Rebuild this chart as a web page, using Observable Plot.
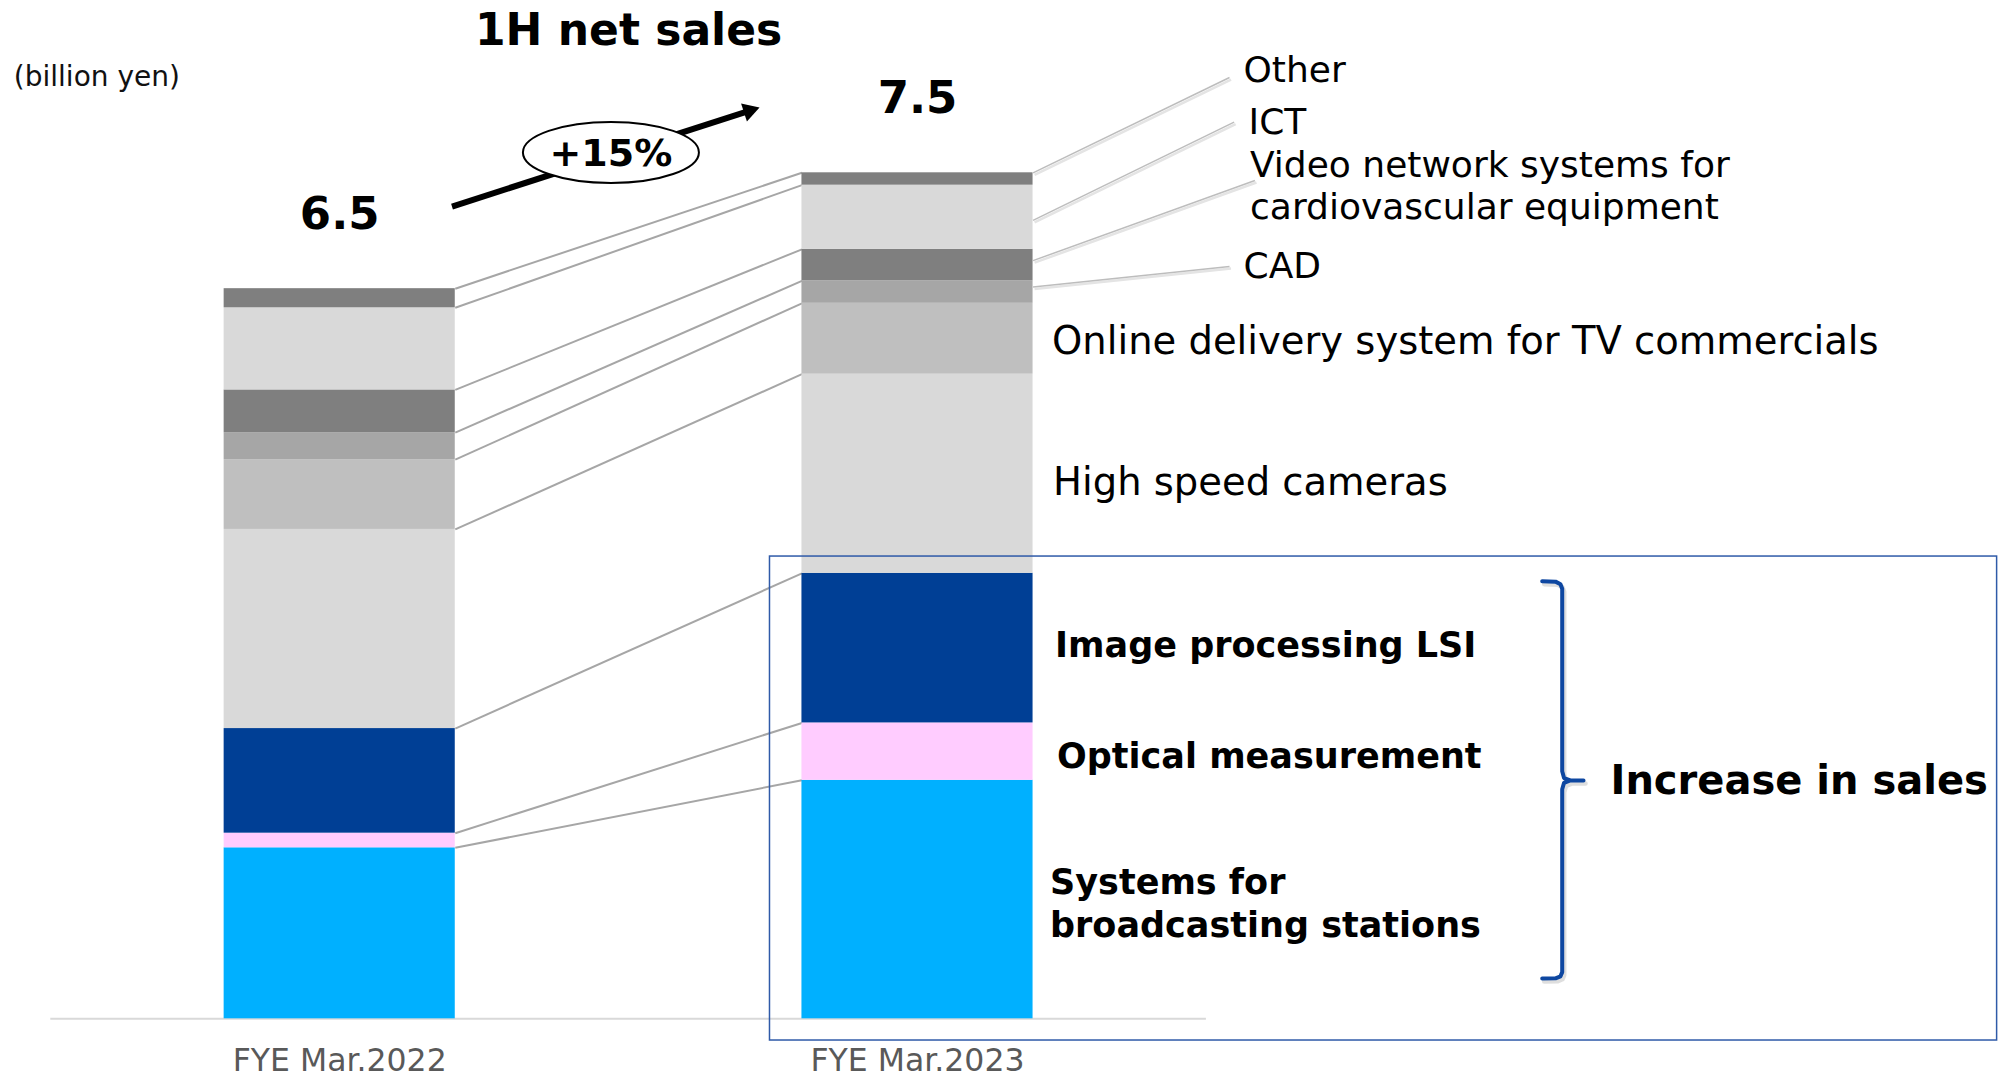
<!DOCTYPE html>
<html>
<head>
<meta charset="utf-8">
<script src="https://cdn.jsdelivr.net/npm/d3@7"></script>
<script src="https://cdn.jsdelivr.net/npm/@observablehq/plot@0.6"></script>
<style>
  html, body { margin: 0; padding: 0; background: #ffffff; }
  #chart { width: 2003px; height: 1077px; overflow: hidden; }
</style>
</head>
<body>
<div id="chart"></div>
<script>
// ---------------- data ----------------
const years = ["FYE Mar.2022", "FYE Mar.2023"];
const totals = [6.5, 7.5];
const growthLabel = "+15%";
const title = "1H net sales";
const unitLabel = "(billion yen)";
const groupLabel = "Increase in sales";

// segments from bottom to top
const segments = [
  "Systems for\nbroadcasting stations",
  "Optical measurement",
  "Image processing LSI",
  "High speed cameras",
  "Online delivery system for TV commercials",
  "CAD",
  "Video network systems for\ncardiovascular equipment",
  "ICT",
  "Other"
];
const sales2022 = [1.52, 0.13, 0.93, 1.77, 0.62, 0.24, 0.38, 0.73, 0.17];
const sales2023 = [2.12, 0.51, 1.33, 1.77, 0.63, 0.20, 0.28, 0.57, 0.11];
const segmentColors = ["#00b0ff", "#ffccff", "#003f95", "#d9d9d9", "#bfbfbf", "#a6a6a6", "#7f7f7f", "#d9d9d9", "#7f7f7f"];

// ---------------- layout / styles ----------------
const W = 2003, H = 1077;
const barHalf = 0.2;
const FONT = "'DejaVu Sans', Verdana, sans-serif";

// label styles per segment (same order as segments)
const labelStyle = [
  {dx: 17, dy: 2.5, size: 35, weight: "bold", lh: 1.233},
  {dx: 24, dy: 2.5, size: 35, weight: "bold"},
  {dx: 22, dy: -4.5, size: 35, weight: "bold"},
  {dx: 20, dy: 6.5, size: 38.5, weight: "normal"},
  {dx: 19, dy: 0.5, size: 38.5, weight: "normal"},
  {x: 1.5642, y: 6.711, size: 36, weight: "normal", leaderTo: [1.540, 6.687], leaderFrac: 0.72},
  {x: 1.5755, y: 7.415, size: 36, weight: "normal", lh: 1.175, leaderTo: [1.584, 7.452], leaderFrac: 0.64},
  {x: 1.5729, y: 7.985, size: 36, weight: "normal", leaderTo: [1.548, 7.970], leaderFrac: 0.45},
  {x: 1.5642, y: 8.447, size: 36, weight: "normal", leaderTo: [1.540, 8.367], leaderFrac: 1}
];

// ---------------- derived tables ----------------
const seriesValues = [sales2022, sales2023];
const rows = [];
const bounds = []; // bounds[yearIndex][segIndex] = {y1, y2}
seriesValues.forEach((vals, yi) => {
  let acc = 0;
  bounds[yi] = [];
  vals.forEach((v, si) => {
    rows.push({year: yi, segment: segments[si], y1: acc, y2: acc + v});
    bounds[yi][si] = {y1: acc, y2: acc + v};
    acc += v;
  });
});
const tops = seriesValues.map(v => d3.sum(v));

const connectors = segments.map((s, i) => ({y1: bounds[0][i].y2, y2: bounds[1][i].y2}));

const totalLabels = years.map((y, i) => ({x: i, y: tops[i], text: totals[i].toFixed(1)}));

// ---------------- marks ----------------
const marks = [];

// baseline
marks.push(Plot.ruleY([0], {x1: -0.5, x2: 1.5, stroke: "#d9d9d9", strokeWidth: 2}));

// connector lines between bars
marks.push(Plot.link(connectors, {
  x1: barHalf, x2: 1 - barHalf, y1: "y1", y2: "y2",
  stroke: "#a6a6a6", strokeWidth: 2
}));

// stacked bars
marks.push(Plot.rect(rows, {
  x1: d => d.year - barHalf, x2: d => d.year + barHalf,
  y1: "y1", y2: "y2", fill: "segment"
}));

// leader lines for small segments
const leaders = [];
labelStyle.forEach((st, i) => {
  if (st.leaderTo) {
    const b = bounds[1][i];
    leaders.push({y1: b.y1 + st.leaderFrac * (b.y2 - b.y1), x2: st.leaderTo[0], y2: st.leaderTo[1]});
  }
});
marks.push(Plot.link(leaders, {x1: 1 + barHalf, y1: "y1", x2: "x2", y2: "y2", stroke: "#e4e4e4", strokeWidth: 2.5, dx: 1.5, dy: 2}));
marks.push(Plot.link(leaders, {x1: 1 + barHalf, y1: "y1", x2: "x2", y2: "y2", stroke: "#bdbdbd", strokeWidth: 1.5}));

// segment labels
segments.forEach((s, i) => {
  const st = labelStyle[i];
  const b = bounds[1][i];
  const x = st.x !== undefined ? st.x : 1 + barHalf;
  const y = st.y !== undefined ? st.y : (b.y1 + b.y2) / 2;
  marks.push(Plot.text([s], {
    x: () => x, y: () => y, text: d => d,
    dx: st.dx || 0, dy: st.dy || 0,
    textAnchor: "start", fontSize: st.size, fontWeight: st.weight,
    lineHeight: st.lh || 1.2, fill: "#000"
  }));
});

// highlight box
marks.push(Plot.rect([groupLabel], {
  x1: 0.7447, x2: 2.8685, y1: -0.193, y2: 4.109,
  fill: "none", stroke: "#2f5aa8", strokeWidth: 1.5
}));

// brace
const bracePts = [
  [2.0812, 3.890], [2.1042, 3.886], [2.1128, 3.862], [2.1158, 3.822],
  [2.1158, 2.200], [2.1190, 2.140], [2.1300, 2.119], [2.1527, 2.119],
  [2.1300, 2.119], [2.1190, 2.098], [2.1158, 2.040],
  [2.1158, 0.415], [2.1128, 0.378], [2.1042, 0.360], [2.0812, 0.358]
].map(([x, y]) => ({x, y}));
marks.push(Plot.line(bracePts, {x: "x", y: "y", stroke: "#c8c8c8", strokeWidth: 4.5, dx: 2, dy: 3, strokeLinejoin: "round", strokeLinecap: "round", strokeOpacity: 0.6}));
marks.push(Plot.line(bracePts, {x: "x", y: "y", stroke: "#0e47a1", strokeWidth: 4, strokeLinejoin: "round", strokeLinecap: "round"}));

marks.push(Plot.text([groupLabel], {x: 2.1994, y: 2.109, text: d => d, textAnchor: "start", fontSize: 40, fontWeight: "bold", fill: "#000"}));

// totals
marks.push(Plot.text(totalLabels, {x: "x", y: "y", text: "text", dy: -74, fontSize: 45, fontWeight: "bold", fill: "#000"}));

// growth arrow: thick shaft + filled triangular head
const arrowSpec = {x1: 0.1944, y1: 7.220, x2: 0.7087, y2: 8.071};
marks.push(Plot.link([arrowSpec], {x1: "x1", y1: "y1", x2: "x2", y2: "y2", stroke: "#000", strokeWidth: 6}));
marks.push(Plot.dot([arrowSpec], {x: "x2", y: "y2", symbol: "triangle2", r: 9, fill: "#000", rotate: 72}));
marks.push(Plot.text([growthLabel], {x: 0.4694, y: 7.692, text: d => d, fontSize: 38, fontWeight: "bold", fill: "#000"}));

// title & unit
marks.push(Plot.text([title], {x: 0.5, y: 8.780, text: d => d, fontSize: 44, fontWeight: "bold", fill: "#000"}));
marks.push(Plot.text([unitLabel], {x: -0.564, y: 8.373, text: d => d, textAnchor: "start", fontSize: 28, fill: "#111"}));

// x axis
marks.push(Plot.axisX([0, 1], {
  tickFormat: i => years[i], tickSize: 0, tickPadding: 30,
  fontSize: 31.5, fill: "#595959", label: null
}));

const plot = Plot.plot({
  width: W, height: H,
  marginLeft: 0, marginRight: 0, marginTop: 0, marginBottom: 58.7,
  x: {domain: [-0.58706, 2.87955], axis: null},
  y: {domain: [0, 9.0516], axis: null},
  color: {domain: segments, range: segmentColors},
  style: {fontFamily: FONT, background: "#ffffff", overflow: "visible"},
  marks
});

document.getElementById("chart").appendChild(plot);

// white ellipse behind the growth label
const xs = plot.scale("x"), ys = plot.scale("y");
const svgNS = "http://www.w3.org/2000/svg";
const growthText = Array.from(plot.querySelectorAll("text")).find(t => t.textContent === growthLabel);
if (growthText) {
  const g = growthText.parentNode;
  const e = document.createElementNS(svgNS, "ellipse");
  e.setAttribute("cx", xs.apply(0.4694));
  e.setAttribute("cy", ys.apply(7.692) - 1);
  e.setAttribute("rx", 88);
  e.setAttribute("ry", 30.5);
  e.setAttribute("fill", "#ffffff");
  e.setAttribute("stroke", "#000000");
  e.setAttribute("stroke-width", 2);
  g.insertBefore(e, growthText);
}
</script>
</body>
</html>
